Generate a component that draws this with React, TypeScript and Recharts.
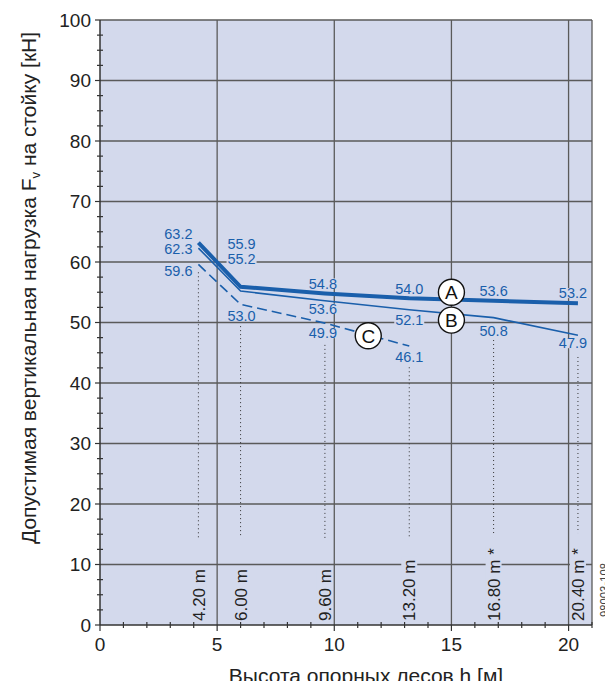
import React from 'react';
import {
  LineChart,
  Line,
  XAxis,
  YAxis,
  CartesianGrid,
  ReferenceLine,
  ReferenceDot,
  LabelList
} from 'recharts';

// scaffold heights [m] and permissible loads [kN]
const heights = [4.2, 6.0, 9.6, 13.2, 16.8, 20.4];
const heightLabels = ['4.20 m', '6.00 m', '9.60 m', '13.20 m', '16.80 m *', '20.40 m *'];
const loadA = [63.2, 55.9, 54.8, 54.0, 53.6, 53.2];
const loadB = [62.3, 55.2, 53.6, 52.1, 50.8, 47.9];
const loadC = [59.6, 53.0, 49.9, 46.1];

// dotted guide lines under each height
const guideTop = [58.3, 49.4, 46.3, 42.6, 47.1, 44.3];
const guideBottom = [14.4, 14.4, 14.4, 14.4, 15.2, 15.2];

// curve markers
const markNames = ['A', 'B', 'C'];
const markX = [15.0, 15.0, 11.45];
const markY = [55.0, 50.4, 47.8];

const xTicks = Array.from({ length: 22 }, (_, i) => i);
const yTicks = Array.from({ length: 41 }, (_, i) => i * 2.5);

// label offsets in px from the point (layout only)
const offA = [[-20, -9], [1, -43], [-2, -10], [0, -10], [0, -10], [-5, -10]];
const offB = [[-20, 1], [1, -32], [-2, 8], [0, 10], [0, 13], [-5, 8]];
const offC = [[-20, 6], [1, 11], [-2, 10], [0, 11]];

const data = heights.map((h, i) => ({
  h,
  a: loadA[i],
  b: loadB[i],
  c: loadC[i]
}));

const BG = '#d3d9ec';
const BLUE = '#1a5fab';
const GRID = '#5a5a5a';
const INK = '#222';
const FONT = '"Liberation Sans", Arial, sans-serif';

// rough Arial advance widths, used for the background box behind rotated labels
const charW: Record<string, number> = { '.': 0.278, ' ': 0.278, m: 0.833, '*': 0.389 };
const textWidth = (s: string, size: number) =>
  s.split('').reduce((sum, ch) => sum + (charW[ch] ?? 0.556), 0) * size;

const XTick = (props: any) => {
  const { x, y, payload } = props;
  const v = payload.value;
  const major = v % 5 === 0;
  return (
    <g>
      <line x1={x} x2={x} y1={y - (major ? 0 : 3)} y2={y + (major ? 6 : 3)} stroke="#333" strokeWidth={1.2} />
      {major && (
        <text x={x} y={y + 26} textAnchor="middle" fontSize={19} fill={INK} fontFamily={FONT}>
          {v}
        </text>
      )}
    </g>
  );
};

const YTick = (props: any) => {
  const { x, y, payload } = props;
  const v = payload.value;
  const major = v % 10 === 0;
  return (
    <g>
      <line x1={x - (major ? 5 : 3)} x2={x + (major ? 0 : 3)} y1={y} y2={y} stroke="#333" strokeWidth={1.2} />
      {major && (
        <text x={x - 9} y={y} dy="0.36em" textAnchor="end" fontSize={19} fill={INK} fontFamily={FONT}>
          {v}
        </text>
      )}
    </g>
  );
};

const makeLabel = (offsets: number[][]) => (props: any) => {
  const { x, y, value, index } = props;
  if (value == null || !offsets[index]) return null;
  const [dx, dy] = offsets[index];
  const cx = x + dx;
  const cy = y + dy;
  const txt = Number(value).toFixed(1);
  return (
    <g>
      <rect x={cx - 15} y={cy - 5} width={30} height={10} fill={BG} />
      <text x={cx} y={cy} dy="0.36em" textAnchor="middle" fontSize={14.5} fill={BLUE} fontFamily={FONT}>
        {txt}
      </text>
    </g>
  );
};

const markShape = (name: string) => (props: any) => {
  const { cx, cy } = props;
  return (
    <g>
      <circle cx={cx} cy={cy} r={13} fill="#fff" stroke="#111" strokeWidth={1.4} />
      <text x={cx} y={cy} dy="0.36em" textAnchor="middle" fontSize={19} fill="#111" fontFamily={FONT}>
        {name}
      </text>
    </g>
  );
};

const heightShape = (label: string) => (props: any) => {
  const { cx } = props;
  const base = 621;
  const len = textWidth(label, 17) + 3;
  return (
    <g>
      <rect x={cx - 8} y={base - len} width={16} height={len} fill={BG} />
      <text
        x={cx}
        y={base}
        dy="0.36em"
        transform={`rotate(-90 ${cx} ${base})`}
        textAnchor="start"
        fontSize={17}
        fill={INK}
        fontFamily={FONT}
      >
        {label}
      </text>
    </g>
  );
};

export default function App() {
  return (
    <div style={{ position: 'relative', width: 613, height: 689, margin: -8, fontFamily: FONT }}>
      <LineChart
        width={613}
        height={689}
        data={data}
        margin={{ top: 20, right: 21, bottom: 0, left: 0 }}
      >
        <CartesianGrid
          fill={BG}
          stroke={GRID}
          strokeWidth={1.3}
          horizontalValues={[10, 20, 30, 40, 50, 60, 70, 80, 90, 100]}
          verticalValues={[5, 10, 15, 20, 21]}
        />
        <XAxis
          type="number"
          dataKey="h"
          domain={[0, 21]}
          ticks={xTicks}
          interval={0}
          height={64}
          tickSize={0}
          tickMargin={0}
          tickLine={false}
          axisLine={{ stroke: '#333', strokeWidth: 1.5 }}
          tick={<XTick />}
        />
        <YAxis
          type="number"
          domain={[0, 100]}
          ticks={yTicks}
          interval={0}
          width={100}
          tickSize={0}
          tickMargin={0}
          tickLine={false}
          axisLine={{ stroke: '#333', strokeWidth: 1.5 }}
          tick={<YTick />}
        />
        {heights.map((h, i) => (
          <ReferenceLine
            key={'g' + i}
            segment={[{ x: h, y: guideTop[i] }, { x: h, y: guideBottom[i] }]}
            stroke="#333"
            strokeWidth={1}
            strokeDasharray="1 3"
          />
        ))}
        {heights.map((h, i) => (
          <ReferenceDot key={'h' + i} x={h} y={0} r={0} shape={heightShape(heightLabels[i])} />
        ))}
        <Line
          dataKey="c"
          stroke={BLUE}
          strokeWidth={1.6}
          strokeDasharray="10 5"
          dot={false}
          isAnimationActive={false}
        >
          <LabelList dataKey="c" content={makeLabel(offC)} />
        </Line>
        <Line dataKey="b" stroke={BLUE} strokeWidth={1.6} dot={false} isAnimationActive={false}>
          <LabelList dataKey="b" content={makeLabel(offB)} />
        </Line>
        <Line dataKey="a" stroke={BLUE} strokeWidth={4} dot={false} isAnimationActive={false}>
          <LabelList dataKey="a" content={makeLabel(offA)} />
        </Line>
        {markNames.map((n, i) => (
          <ReferenceDot key={n} x={markX[i]} y={markY[i]} r={13} shape={markShape(n)} />
        ))}
      </LineChart>
      <svg
        width={613}
        height={689}
        style={{ position: 'absolute', left: 0, top: 0, pointerEvents: 'none' }}
      >
        <line x1={7} x2={7} y1={0} y2={689} stroke="#222" strokeWidth={1.5} />
        <text
          x={28}
          y={288}
          dy="0.36em"
          transform="rotate(-90 28 288)"
          textAnchor="middle"
          fontSize={21}
          fill={INK}
          fontFamily={FONT}
        >
          Допустимая вертикальная нагрузка F
          <tspan fontSize={13} dy={4}>v</tspan>
          <tspan dy={-4}> на стойку [кН]</tspan>
        </text>
        <text x={366} y={683} textAnchor="middle" fontSize={21} fill={INK} fontFamily={FONT}>
          Высота опорных лесов h [м]
        </text>
        <text
          x={604}
          y={617}
          dy="0.36em"
          transform="rotate(-90 604 617)"
          textAnchor="start"
          fontSize={13}
          textLength={54}
          lengthAdjust="spacingAndGlyphs"
          fill="#444"
          fontFamily={FONT}
        >
          98003-108
        </text>
      </svg>
    </div>
  );
}
